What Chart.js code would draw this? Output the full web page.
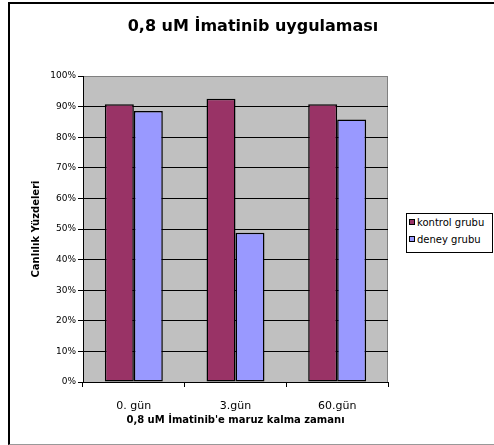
<!DOCTYPE html>
<html>
<head>
<meta charset="utf-8">
<script src="https://cdn.jsdelivr.net/npm/chart.js@4/dist/chart.umd.min.js"></script>
<style>
  body { margin: 0; background: #fff; }
  #wrap { position: relative; width: 494px; height: 445px; overflow: hidden; }
  #frame {
    position: absolute; left: 8px; top: 2px; width: 500px; height: 440px;
    border-top: 2px solid #000; border-left: 2px solid #000; border-bottom: 1px solid #999;
  }
  #viability { position: absolute; left: 0; top: 0; }
  #legend {
    position: absolute; left: 406px; top: 213px; width: 87px; height: 40px;
    border: 1px solid #000; background: #fff; box-sizing: border-box;
    font: 10px "DejaVu Sans", sans-serif; color: #000;
  }
  .item { position: absolute; left: 2px; height: 12px; line-height: 12px; white-space: nowrap; }
  .item span.box {
    display: inline-block; width: 4px; height: 4px; border: 1px solid #000;
    margin-right: 2px; vertical-align: 1px;
  }
</style>
</head>
<body>
<div id="wrap">
  <div id="frame"></div>
  <canvas id="viability" width="494" height="445"></canvas>
  <div id="legend"></div>
</div>
<script>
const days = ['0. gün', '3.gün', '60.gün'];
const seriesNames = ['kontrol grubu', 'deney grubu'];
const kontrol = [90.8, 92.6, 90.8];
const deney = [88.6, 48.8, 85.8];
const seriesColors = ['#993366', '#9999FF'];

// grey plot background with darker outline, drawn under the grid
const plotBackground = {
  id: 'plotBackground',
  beforeDraw(chart) {
    const a = chart.chartArea;
    const c = chart.ctx;
    c.save();
    c.fillStyle = '#C0C0C0';
    c.fillRect(a.left, a.top, a.right - a.left, a.bottom - a.top);
    c.strokeStyle = '#808080';
    c.lineWidth = 1;
    c.strokeRect(a.left + 0.5, a.top + 0.5, a.right - a.left - 1, a.bottom - a.top);
    c.restore();
  }
};

// centre the title over the whole frame, not only over the plot column
const wideTitle = {
  id: 'wideTitle',
  afterLayout(chart) {
    if (chart.titleBlock) {
      chart.titleBlock.left = 10;
      chart.titleBlock.right = 496;
    }
  }
};

const datasets = [kontrol, deney].map((vals, i) => ({
  label: seriesNames[i],
  data: vals,
  backgroundColor: seriesColors[i],
  borderColor: '#000',
  borderWidth: 1.5,
  borderSkipped: false,
  categoryPercentage: 0.57,
  barPercentage: 1.0
}));

new Chart(document.getElementById('viability'), {
  type: 'bar',
  data: { labels: days, datasets: datasets },
  plugins: [plotBackground, wideTitle],
  options: {
    responsive: false,
    animation: false,
    layout: { padding: { top: 0, left: 20, right: 106, bottom: 19 } },
    plugins: {
      legend: { display: false },
      tooltip: { enabled: false },
      title: {
        display: true,
        text: '0,8 uM İmatinib uygulaması',
        color: '#000',
        font: { family: 'DejaVu Sans', size: 16, weight: 'bold' },
        padding: { top: 17.5, bottom: 39.3 }
      }
    },
    scales: {
      y: {
        min: 0,
        max: 100,
        afterFit(scale) { scale.width = 63; },
        ticks: {
          stepSize: 10,
          padding: 2,
          color: '#000',
          font: { family: 'DejaVu Sans', size: 9 },
          callback: (v) => v + '%'
        },
        grid: {
          color: (ctx) => ctx.tick && ctx.tick.value === 100 ? '#808080' : '#000',
          tickColor: '#000',
          tickLength: 5
        },
        border: { display: true, color: '#000', width: 1 },
        title: {
          display: true,
          text: 'Canlılık Yüzdeleri',
          color: '#000',
          font: { family: 'DejaVu Sans', size: 10, weight: 'bold' },
          padding: { top: 10, bottom: 0 }
        }
      },
      x: {
        afterFit(scale) { scale.height = 44; },
        ticks: {
          padding: 13,
          color: '#000',
          font: { family: 'DejaVu Sans', size: 11 }
        },
        grid: {
          offset: true,
          drawOnChartArea: false,
          drawTicks: true,
          tickLength: 5,
          tickColor: '#000'
        },
        border: { display: true, color: '#000', width: 1 },
        title: {
          display: true,
          text: "0,8 uM İmatinib'e maruz kalma zamanı",
          color: '#000',
          font: { family: 'DejaVu Sans', size: 10, weight: 'bold' },
          padding: { top: 0, bottom: 0 }
        }
      }
    }
  }
});

// legend box on the right
const legend = document.getElementById('legend');
seriesNames.forEach((name, i) => {
  const row = document.createElement('div');
  row.className = 'item';
  row.style.top = (i === 0 ? 3 : 20) + 'px';
  const box = document.createElement('span');
  box.className = 'box';
  box.style.background = seriesColors[i];
  row.appendChild(box);
  row.appendChild(document.createTextNode(name));
  legend.appendChild(row);
});
</script>
</body>
</html>
